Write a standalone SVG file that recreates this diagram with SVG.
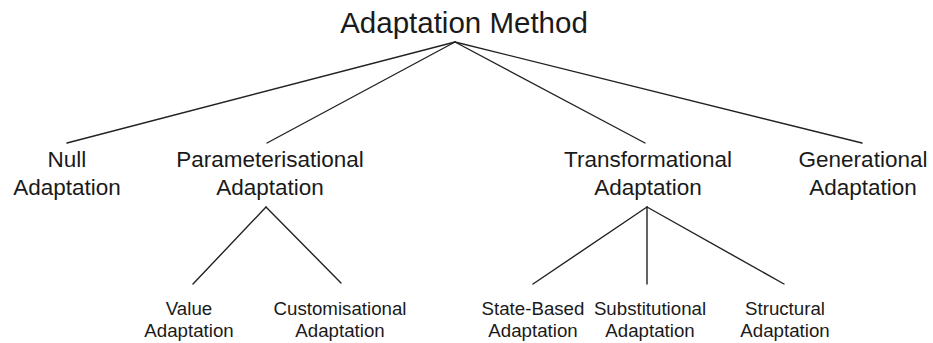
<svg xmlns="http://www.w3.org/2000/svg" width="933" height="343" viewBox="0 0 933 343">
  <style>
    text { font-family: "Liberation Sans", Arial, sans-serif; fill: #1a1a1a; text-anchor: middle; }
    .root { font-size: 29.5px; }
    .l2 { font-size: 22.5px; }
    .l3 { font-size: 18.7px; }
    .edge { stroke: #222; stroke-width: 1.4; fill: none; stroke-linecap: round; }
  </style>
  <rect width="933" height="343" fill="#ffffff"/>

  <!-- tree edges -->
  <g id="connectors">
    <line class="edge" x1="455" y1="42" x2="67" y2="143"/>
    <line class="edge" x1="455" y1="42" x2="267" y2="143"/>
    <line class="edge" x1="455" y1="42" x2="645" y2="143"/>
    <line class="edge" x1="455" y1="42" x2="862" y2="143"/>
    <line class="edge" x1="266" y1="207" x2="193" y2="284"/>
    <line class="edge" x1="266" y1="207" x2="341" y2="283"/>
    <line class="edge" x1="647" y1="207" x2="533" y2="284"/>
    <line class="edge" x1="647" y1="207" x2="647" y2="284"/>
    <line class="edge" x1="647" y1="207" x2="784" y2="284"/>
  </g>

  <g id="adaptation-method">
    <text class="root" x="464" y="33">Adaptation Method</text>
  </g>

  <g id="null-adaptation">
    <text class="l2" x="67" y="167">Null</text>
    <text class="l2" x="67" y="195">Adaptation</text>
  </g>
  <g id="parameterisational-adaptation">
    <text class="l2" x="270" y="167">Parameterisational</text>
    <text class="l2" x="270" y="195">Adaptation</text>
  </g>
  <g id="transformational-adaptation">
    <text class="l2" x="648" y="167">Transformational</text>
    <text class="l2" x="648" y="195">Adaptation</text>
  </g>
  <g id="generational-adaptation">
    <text class="l2" x="863" y="167">Generational</text>
    <text class="l2" x="863" y="195">Adaptation</text>
  </g>

  <g id="value-adaptation">
    <text class="l3" x="189" y="315">Value</text>
    <text class="l3" x="189" y="337">Adaptation</text>
  </g>
  <g id="customisational-adaptation">
    <text class="l3" x="340" y="315">Customisational</text>
    <text class="l3" x="340" y="337">Adaptation</text>
  </g>
  <g id="state-based-adaptation">
    <text class="l3" x="533" y="315">State-Based</text>
    <text class="l3" x="533" y="337">Adaptation</text>
  </g>
  <g id="substitutional-adaptation">
    <text class="l3" x="650" y="315">Substitutional</text>
    <text class="l3" x="650" y="337">Adaptation</text>
  </g>
  <g id="structural-adaptation">
    <text class="l3" x="785" y="315">Structural</text>
    <text class="l3" x="785" y="337">Adaptation</text>
  </g>
</svg>
